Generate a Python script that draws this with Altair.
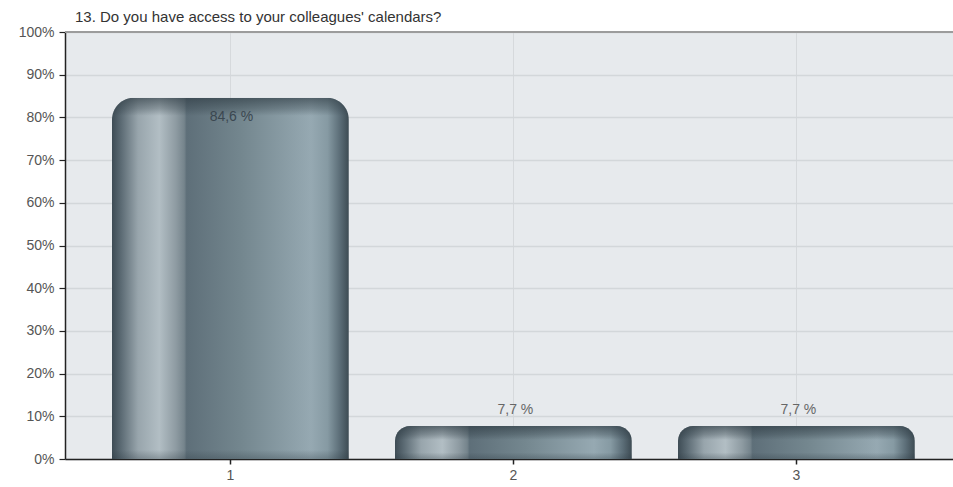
import altair as alt
import pandas as pd

# ---- data ----
categories = ["1", "2", "3"]
values = [84.6, 7.7, 7.7]
y_ticks = [0, 10, 20, 30, 40, 50, 60, 70, 80, 90, 100]
title_text = "13. Do you have access to your colleagues' calendars?"

df = pd.DataFrame({"cat": categories, "value": values})
tdf = pd.DataFrame({"t": [title_text]})

FONT = "Liberation Sans"
W, H = 888, 427

bar_grad = alt.Gradient(
    gradient="linear", x1=0, x2=1, y1=0, y2=0,
    stops=[
        alt.GradientStop(offset=0.00, color="#3e4c55"),
        alt.GradientStop(offset=0.04, color="#5d6c75"),
        alt.GradientStop(offset=0.11, color="#98a5ac"),
        alt.GradientStop(offset=0.20, color="#b2bec4"),
        alt.GradientStop(offset=0.27, color="#8e9ba2"),
        alt.GradientStop(offset=0.305, color="#75848c"),
        alt.GradientStop(offset=0.315, color="#5e6f79"),
        alt.GradientStop(offset=0.55, color="#74878f"),
        alt.GradientStop(offset=0.84, color="#96a9b2"),
        alt.GradientStop(offset=0.91, color="#869aa3"),
        alt.GradientStop(offset=0.96, color="#5d6f79"),
        alt.GradientStop(offset=1.00, color="#3d4b53"),
    ],
)

def rim_grad(top_end, bottom_start):
    return alt.Gradient(
        gradient="linear", x1=0, x2=0, y1=0, y2=1,
        stops=[
            alt.GradientStop(offset=0.0, color="rgba(45,58,66,0.65)"),
            alt.GradientStop(offset=top_end * 0.6, color="rgba(45,58,66,0.3)"),
            alt.GradientStop(offset=top_end, color="rgba(45,58,66,0)"),
            alt.GradientStop(offset=bottom_start, color="rgba(45,58,66,0)"),
            alt.GradientStop(offset=1.0, color="rgba(45,58,66,0.3)"),
        ],
    )

x_enc = alt.X(
    "cat:N",
    sort=categories,
    scale=alt.Scale(paddingInner=0.163, paddingOuter=0.1504, align=0.552),
    axis=alt.Axis(
        title=None, labelAngle=0, domainColor="#222", domainWidth=1.5,
        tickColor="#222", tickSize=5, tickWidth=1.5, labelColor="#555",
        labelFontSize=14, labelFont=FONT, labelPadding=4,
        grid=True, gridColor="#d6d9dc", gridWidth=1, bandPosition=0.5,
    ),
)
y_enc = alt.Y(
    "value:Q",
    scale=alt.Scale(domain=[0, 100], nice=False),
    axis=alt.Axis(
        title=None, values=y_ticks, labelExpr="datum.value + '%'",
        domainColor="#222", domainWidth=1.5, tickColor="#222", tickSize=6,
        tickWidth=1.2, labelColor="#555", labelFontSize=14, labelFont=FONT,
        labelPadding=5, grid=True, gridColor="#d3d7da", gridWidth=1.5,
    ),
)

base = alt.Chart(df).encode(x=x_enc, y=y_enc).transform_calculate(
    label="replace(format(datum.value, '.1f'), '.', ',') + ' %'"
)

big = base.transform_filter("datum.value > 50")
small = base.transform_filter("datum.value <= 50")

big_bar = big.mark_bar(cornerRadiusTopLeft=22, cornerRadiusTopRight=22, color=bar_grad)
big_rim = big.mark_bar(cornerRadiusTopLeft=22, cornerRadiusTopRight=22, color=rim_grad(0.05, 0.975))
small_bar = small.mark_bar(cornerRadiusTopLeft=15, cornerRadiusTopRight=15, color=bar_grad)
small_rim = small.mark_bar(cornerRadiusTopLeft=15, cornerRadiusTopRight=15, color=rim_grad(0.42, 0.8))

big_txt = big.mark_text(dy=19, dx=1, baseline="middle", fontSize=14, font=FONT, color="#3b4750").encode(text="label:N")
small_txt = small.mark_text(dy=-16, dx=2, baseline="middle", fontSize=14, font=FONT, color="#666").encode(text="label:N")

top_rule = alt.Chart(tdf).mark_rule(color="#9c9c9c", strokeWidth=2).encode(
    x=alt.value(0), x2=alt.value(W), y=alt.value(0)
)
title = alt.Chart(tdf).mark_text(
    align="left", baseline="middle", fontSize=15, font=FONT, color="#333"
).encode(x=alt.value(10), y=alt.value(-15), text="t:N")

chart = alt.layer(
    big_bar, big_rim, small_bar, small_rim, big_txt, small_txt, top_rule, title
).properties(
    width=W, height=H,
    autosize=alt.AutoSizeParams(type="none"),
    padding={"left": 65, "top": 32, "right": 0, "bottom": 28},
    background="white",
).configure_view(fill="#e7eaed", stroke=None)

chart.save("out.html", embed_options={"renderer": "svg", "actions": False})
